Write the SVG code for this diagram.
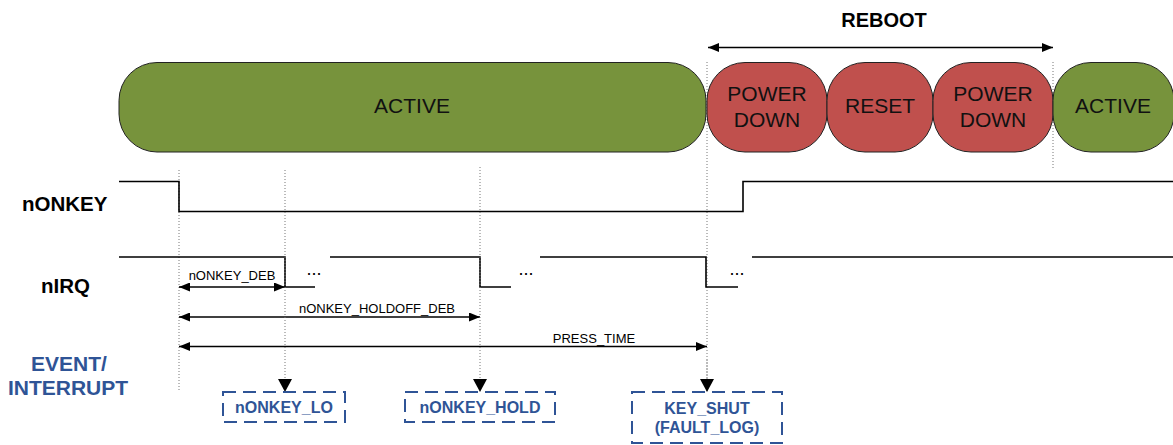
<svg xmlns="http://www.w3.org/2000/svg" width="1173" height="445" viewBox="0 0 1173 445">
<defs>
<marker id="ah" viewBox="0 0 11 9" refX="11" refY="4.5" markerWidth="11" markerHeight="9" orient="auto-start-reverse" markerUnits="userSpaceOnUse"><path d="M0,0 L11,4.5 L0,9 z" fill="#000"/></marker>
<marker id="ahBig" viewBox="0 0 13 14" refX="13" refY="7" markerWidth="13" markerHeight="14" orient="auto" markerUnits="userSpaceOnUse"><path d="M0,0 L13,7 L0,14 z" fill="#000"/></marker>
</defs>
<style>
.st{stroke:#222;stroke-width:1}
.g{fill:#77933C}
.r{fill:#C0504D}
.lbl{font-family:"Liberation Sans",Arial,sans-serif;font-size:21px;fill:#111;text-anchor:middle}
.sig{fill:none;stroke:#000;stroke-width:1.6}
.dot{stroke:#777;stroke-width:1;stroke-dasharray:1 2;fill:none}
.dim{stroke:#000;stroke-width:1.3;fill:none}
.dimt{font-family:"Liberation Sans",Arial,sans-serif;font-size:13px;fill:#000;text-anchor:middle}
.sl{font-family:"Liberation Sans",Arial,sans-serif;font-size:20.5px;font-weight:bold;fill:#000}
.dots{font-family:"Liberation Sans",Arial,sans-serif;font-size:18px;fill:#000;text-anchor:middle}
.ev{fill:none;stroke:#2F5496;stroke-width:2;stroke-dasharray:13 7}
.evt{font-family:"Liberation Sans",Arial,sans-serif;font-size:16px;font-weight:bold;fill:#2F5496;text-anchor:middle}
.evl{font-family:"Liberation Sans",Arial,sans-serif;font-size:21px;font-weight:bold;fill:#2F5496;text-anchor:middle}
</style>
<rect width="1173" height="445" fill="#fff"/>

<g id="guides">
<line class="dot" x1="707" y1="62" x2="707" y2="378"/>
<line class="dot" x1="1053" y1="62" x2="1053" y2="168"/>
<line class="dot" x1="179" y1="170" x2="179" y2="392"/>
</g>

<g id="node-active1"><rect class="st g" x="119" y="62.5" width="587" height="89.5" rx="38"/><text class="lbl" x="412" y="113">ACTIVE</text></g>
<g id="node-powerdown1"><rect class="st r" x="707" y="62.5" width="120" height="89.5" rx="38"/><text class="lbl" x="767" y="101">POWER</text><text class="lbl" x="767" y="127">DOWN</text></g>
<g id="node-reset"><rect class="st r" x="827" y="62.5" width="106" height="89.5" rx="38"/><text class="lbl" x="880" y="113">RESET</text></g>
<g id="node-powerdown2"><rect class="st r" x="933" y="62.5" width="120" height="89.5" rx="38"/><text class="lbl" x="993" y="101">POWER</text><text class="lbl" x="993" y="127">DOWN</text></g>
<g id="node-active2"><rect class="st g" x="1053" y="62.5" width="121" height="89.5" rx="38"/><text class="lbl" x="1113" y="113">ACTIVE</text></g>

<g id="reboot">
<text x="884" y="27" style="font-family:'Liberation Sans',Arial,sans-serif;font-size:20px;font-weight:bold;fill:#000;text-anchor:middle">REBOOT</text>
<line class="dim" x1="708" y1="47.5" x2="1053" y2="47.5" marker-start="url(#ah)" marker-end="url(#ah)"/>
</g>

<g id="signals">
<text class="sl" x="22" y="211">nONKEY</text>
<text class="sl" x="41" y="293">nIRQ</text>
<path class="sig" d="M119,181.5 H179 V211.5 H743 V181.5 H1173"/>
<path class="sig" d="M119,257 H285 V287 H315 M330,257 H480 V287 H511 M540,257 H706 V287 H738 M752,257 H1173"/>
<text class="dots" x="314" y="275">...</text>
<text class="dots" x="526" y="275">...</text>
<text class="dots" x="737" y="275">...</text>
</g>

<g id="dimensions">
<line class="dim" x1="179" y1="287" x2="285" y2="287" marker-start="url(#ah)" marker-end="url(#ah)"/>
<text class="dimt" x="232" y="280">nONKEY_DEB</text>
<line class="dim" x1="179" y1="317" x2="480" y2="317" marker-start="url(#ah)" marker-end="url(#ah)"/>
<text class="dimt" x="377" y="313">nONKEY_HOLDOFF_DEB</text>
<line class="dim" x1="179" y1="346.5" x2="707" y2="346.5" marker-start="url(#ah)" marker-end="url(#ah)"/>
<text class="dimt" x="594" y="343">PRESS_TIME</text>
</g>

<g id="connectors">
<line class="dot" x1="285" y1="170" x2="285" y2="392" marker-end="url(#ahBig)"/>
<line class="dot" x1="480" y1="167" x2="480" y2="392" marker-end="url(#ahBig)"/>
<line class="dot" x1="707" y1="360" x2="707" y2="392" marker-end="url(#ahBig)"/>
</g>

<g id="event-label">
<text class="evl" x="69" y="371">EVENT/</text>
<text class="evl" x="68" y="395">INTERRUPT</text>
</g>

<g id="node-nonkey-lo"><rect class="ev" x="223" y="392" width="122" height="30"/><text class="evt" x="284" y="412.5">nONKEY_LO</text></g>
<g id="node-nonkey-hold"><rect class="ev" x="405" y="392" width="150" height="30"/><text class="evt" x="480" y="412.5">nONKEY_HOLD</text></g>
<g id="node-key-shut"><rect class="ev" x="632" y="392" width="150" height="51"/><text class="evt" x="707" y="414">KEY_SHUT</text><text class="evt" x="707" y="433">(FAULT_LOG)</text></g>
</svg>
